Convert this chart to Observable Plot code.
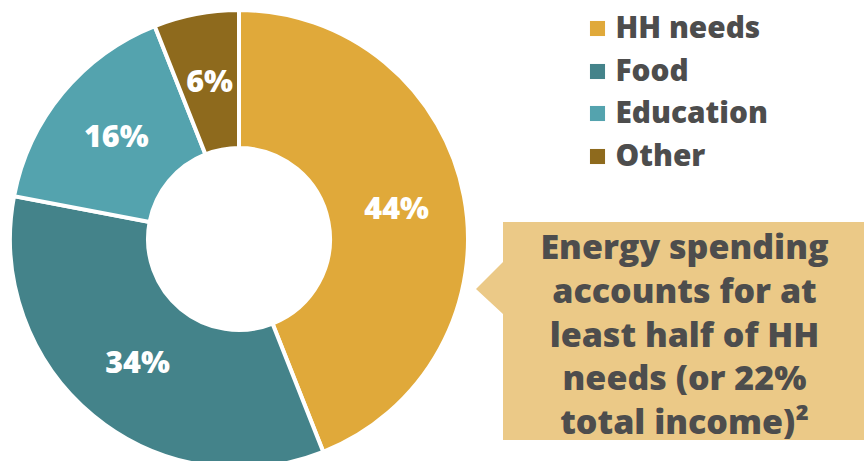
<!DOCTYPE html>
<html><head><meta charset="utf-8">
<script src="https://cdn.jsdelivr.net/npm/d3@7"></script>
<script src="https://cdn.jsdelivr.net/npm/@observablehq/plot@0.6"></script>
<style>body{margin:0;background:#fff}</style>
</head><body><div id="chart"></div>
<script>
const categories = ["HH needs", "Food", "Education", "Other"];
const values = [44, 34, 16, 6];
const colors = ["#E0A93A", "#44838A", "#54A3AE", "#8E6A1D"];
const labels = ["44%", "34%", "16%", "6%"];
const calloutText = "Energy spending\naccounts for at\nleast half of HH\nneeds (or 22%\ntotal income)²";

const data = categories.map((c, i) => ({category: c, value: values[i], label: labels[i]}));
const pie = d3.pie().value(d => d.value).sort(null)(data);
const cx = 239, cy = 239, rIn = 91, rOut = 229;
const arc = d3.arc().innerRadius(rIn).outerRadius(rOut);
const labelArc = d3.arc().innerRadius(160).outerRadius(160);
const slices = pie.map(p => {
  const [lx, ly] = labelArc.centroid(p);
  return {...p.data, start: p.startAngle, end: p.endAngle, lx: cx + lx, ly: cy + ly};
});

function donutMark(index, scales) {
  const g = d3.create("svg:g").attr("transform", `translate(${scales.x(cx)},${scales.y(cy)})`);
  g.selectAll("path").data(slices).join("path")
    .attr("d", d => arc({startAngle: d.start, endAngle: d.end}))
    .attr("fill", d => scales.color(d.category))
    .attr("stroke", "white").attr("stroke-width", 4).attr("stroke-linejoin", "miter");
  return g.node();
}

function calloutShape(index, scales) {
  const x0 = scales.x(503), x1 = scales.x(864), y0 = scales.y(222), y1 = scales.y(440);
  const tipX = scales.x(476), tipY = scales.y(289), a0 = scales.y(262), a1 = scales.y(314);
  const p = `M${x0},${y0}H${x1}V${y1}H${x0}V${a1}L${tipX},${tipY}L${x0},${a0}Z`;
  return d3.create("svg:path").attr("d", p).attr("fill", "#EBC987").node();
}

const legendY = [28, 71, 113, 156];
const legend = categories.map((c, i) => ({category: c, y: legendY[i]}));

const chart = Plot.plot({
  width: 864, height: 461, margin: 0,
  x: {domain: [0, 864], range: [0, 864], axis: null},
  y: {domain: [0, 461], range: [0, 461], axis: null},
  color: {domain: categories, range: colors},
  style: {fontFamily: "'Open Sans', 'Noto Sans', sans-serif", background: "white"},
  marks: [
    donutMark,
    Plot.text(slices, {x: "lx", y: "ly", text: "label", fill: "white", fontSize: 30.5, fontWeight: 800}),
    Plot.dot(legend, {x: 597, y: "y", symbol: "square", r: 8.5, fill: "category", stroke: null}),
    Plot.text(legend, {x: 615, y: "y", text: "category", textAnchor: "start", fill: "#4D4D4D", fontSize: 29.8, fontWeight: 800}),
    calloutShape,
    Plot.text([calloutText], {x: 684, y: 332, text: d => d, fill: "#4D4D4D", fontSize: 34, fontWeight: 800, lineHeight: 1.29})
  ]
});
document.getElementById("chart").append(chart);
</script>
</body></html>
